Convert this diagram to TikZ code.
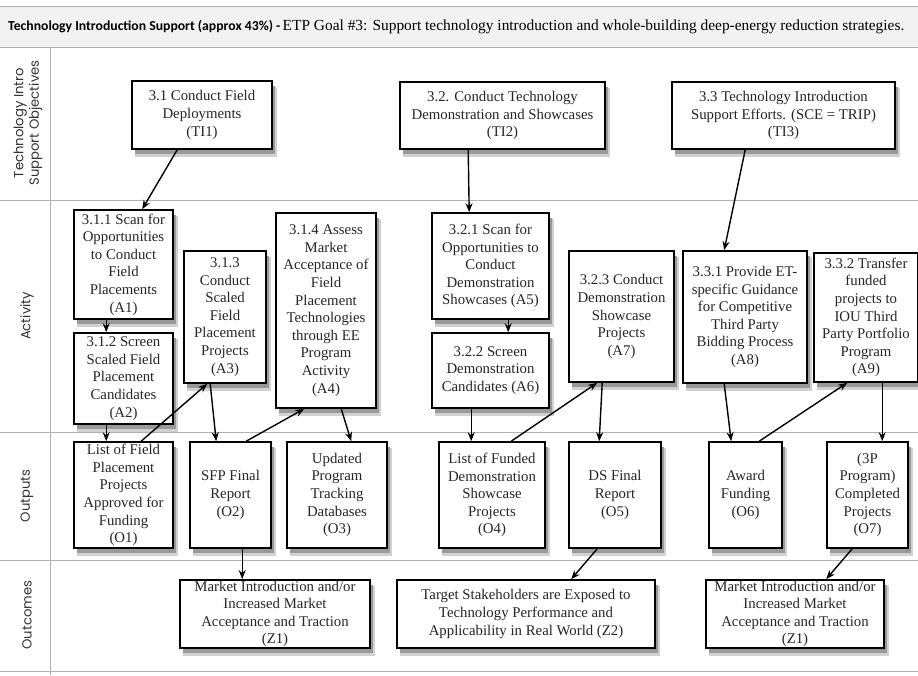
\documentclass[tikz,border=0pt]{standalone}
\usepackage{fontspec}
\setmainfont{Liberation Serif}
\newfontfamily\hdrfont{Carlito}
\newfontfamily\lblfont{Poppins}
\usetikzlibrary{shadows,arrows.meta,calc}
\begin{document}
\begin{tikzpicture}[x=1pt,y=-1pt,
 box/.style={draw=black, line width=1.6pt, fill=white, align=center, inner sep=1pt, text=black!85,
   font=\fontsize{14.8}{17.6}\selectfont,
   general shadow={shadow xshift=3.5pt, shadow yshift=-7pt, fill=black!18, draw=black!18, line width=2pt},
   general shadow={shadow xshift=2.5pt, shadow yshift=-5pt, fill=black!40, draw=none}},
 conn/.style={line width=1.4pt, -{Stealth[length=9pt,width=7pt]}},
 gridline/.style={draw=black!30, line width=0.8pt},
 lbl/.style={rotate=90, font=\lblfont\fontsize{13.2}{15.5}\selectfont, text=black!80, align=center}]
\useasboundingbox (0,0) rectangle (918,675);
% header band
\fill[black!5] (0,6) rectangle (918,47);
\draw[gridline] (0,6) -- (918,6);
\draw[gridline] (0,47) -- (918,47);
\draw[gridline] (0,200) -- (918,200);
\draw[gridline] (0,432) -- (918,432);
\draw[gridline] (0,560) -- (918,560);
\draw[gridline] (0,671) -- (918,671);
\draw[gridline] (50,47) -- (50,675);
\node[anchor=west, inner sep=0pt] (hdr) at (8,27)
 {{\hdrfont\bfseries\fontsize{13.7}{16}\selectfont Technology Introduction Support (approx 43\%) -} {\fontsize{15.4}{16}\selectfont ETP Goal \#3: Support technology introduction and whole-building deep-energy reduction strategies.}};
% row labels
\node[lbl] (L1) at (28,123) {Technology Intro\\Support Objectives};
\node[lbl] (L2) at (27,316) {Activity};
\node[lbl] (L3) at (27,496) {Outputs};
\node[lbl] (L4) at (27,615) {Outcomes};
% objectives
\node[box, minimum width=140pt, minimum height=68pt] (TI1) at (202,115) {3.1 Conduct Field\\Deployments\\(TI1)};
\node[box, minimum width=205pt, minimum height=67pt] (TI2) at (502.5,115.5) {3.2. Conduct Technology\\Demonstration and Showcases\\(TI2)};
\node[box, minimum width=223pt, minimum height=67pt] (TI3) at (783.5,115.5) {3.3 Technology Introduction\\Support Efforts. (SCE = TRIP)\\(TI3)};
% activities
\node[box, minimum width=99pt, minimum height=109pt] (A1) at (123.5,264.5) {3.1.1 Scan for\\Opportunities\\to Conduct\\Field\\Placements\\(A1)};
\node[box, minimum width=99pt, minimum height=91pt] (A2) at (123.5,378.5) {3.1.2 Screen\\Scaled Field\\Placement\\Candidates\\(A2)};
\node[box, minimum width=82pt, minimum height=132pt] (A3) at (225,317) {3.1.3\\Conduct\\Scaled\\Field\\Placement\\Projects\\(A3)};
\node[box, minimum width=100pt, minimum height=195pt] (A4) at (326,310.5) {3.1.4 Assess\\Market\\Acceptance of\\Field\\Placement\\Technologies\\through EE\\Program\\Activity\\(A4)};
\node[box, minimum width=117pt, minimum height=106pt] (A5) at (490.5,266) {3.2.1 Scan for\\Opportunities to\\Conduct\\Demonstration\\Showcases (A5)};
\node[box, minimum width=117pt, minimum height=75pt] (A6) at (490.5,370.5) {3.2.2 Screen\\Demonstration\\Candidates (A6)};
\node[box, minimum width=105pt, minimum height=131pt] (A7) at (621.5,316.5) {3.2.3 Conduct\\Demonstration\\Showcase\\Projects\\(A7)};
\node[box, minimum width=124pt, minimum height=132pt] (A8) at (745,317) {3.3.1 Provide ET-\\specific Guidance\\for Competitive\\Third Party\\Bidding Process\\(A8)};
\node[box, minimum width=104pt, minimum height=129pt] (A9) at (866,317.5) {3.3.2 Transfer\\funded\\projects to\\IOU Third\\Party Portfolio\\Program\\(A9)};
% outputs
\node[box, minimum width=99pt, minimum height=106pt] (O1) at (123.5,495) {List of Field\\Placement\\Projects\\Approved for\\Funding\\(O1)};
\node[box, minimum width=81pt, minimum height=106pt] (O2) at (230.5,495) {SFP Final\\Report\\(O2)};
\node[box, minimum width=100pt, minimum height=106pt] (O3) at (337,495) {Updated\\Program\\Tracking\\Databases\\(O3)};
\node[box, minimum width=106pt, minimum height=106pt] (O4) at (492,495) {List of Funded\\Demonstration\\Showcase\\Projects\\(O4)};
\node[box, minimum width=92pt, minimum height=106pt] (O5) at (615,495) {DS Final\\Report\\(O5)};
\node[box, minimum width=73pt, minimum height=106pt] (O6) at (745.5,495) {Award\\Funding\\(O6)};
\node[box, minimum width=81pt, minimum height=106pt] (O7) at (867.5,495) {(3P\\Program)\\Completed\\Projects\\(O7)};
% outcomes
\node[box, minimum width=190pt, minimum height=68pt] (Z1) at (275,614) {Market Introduction and/or\\Increased Market\\Acceptance and Traction\\(Z1)};
\node[box, minimum width=258pt, minimum height=68pt] (Z2) at (526,614) {Target Stakeholders are Exposed to\\Technology Performance and\\Applicability in Real World (Z2)};
\node[box, minimum width=178pt, minimum height=68pt] (Z3) at (795,614) {Market Introduction and/or\\Increased Market\\Acceptance and Traction\\(Z1)};
% connectors
\draw[conn] ($(TI1.south west)+(46,0)$) -- ($(A1.north west)+(69,0)$);
\draw[conn] ($(TI2.south west)+(69,0)$) -- ($(A5.north west)+(38,0)$);
\draw[conn] ($(TI3.south west)+(74,0)$) -- ($(A8.north west)+(42,0)$);
\draw[conn] ($(A1.south west)+(33,0)$) -- ($(A2.north west)+(33,0)$);
\draw[conn] ($(A2.south west)+(33,0)$) -- ($(O1.north west)+(33,0)$);
\draw[conn] ($(O1.north west)+(68,0)$) -- ($(A3.south west)+(24,0)$);
\draw[conn] ($(A3.south west)+(27,0)$) -- ($(O2.north west)+(27,0)$);
\draw[conn] ($(O2.north west)+(57,0)$) -- ($(A4.south west)+(29,0)$);
\draw[conn] ($(A4.south west)+(66,0)$) -- ($(O3.north west)+(65,0)$);
\draw[conn] ($(A5.south west)+(77,0)$) -- ($(A6.north west)+(77,0)$);
\draw[conn] ($(A6.south west)+(40,0)$) -- ($(O4.north west)+(33,0)$);
\draw[conn] ($(O4.north west)+(73,0)$) -- ($(A7.south west)+(29,0)$);
\draw[conn] ($(A7.south west)+(34,0)$) -- ($(O5.north west)+(31,0)$);
\draw[conn] ($(A8.south west)+(42,0)$) -- ($(O6.north west)+(23,0)$);
\draw[conn] ($(O6.north west)+(51,0)$) -- ($(A9.south west)+(34,0)$);
\draw[conn] ($(A9.south west)+(69,0)$) -- ($(O7.north west)+(56,0)$);
\draw[conn] ($(O2.south west)+(53,0)$) -- ($(Z1.north west)+(63,0)$);
\draw[conn] ($(O5.south west)+(29,0)$) -- ($(Z2.north west)+(175,0)$);
\draw[conn] ($(O7.south west)+(26,0)$) -- ($(Z3.north west)+(121,0)$);
\end{tikzpicture}
\end{document}
